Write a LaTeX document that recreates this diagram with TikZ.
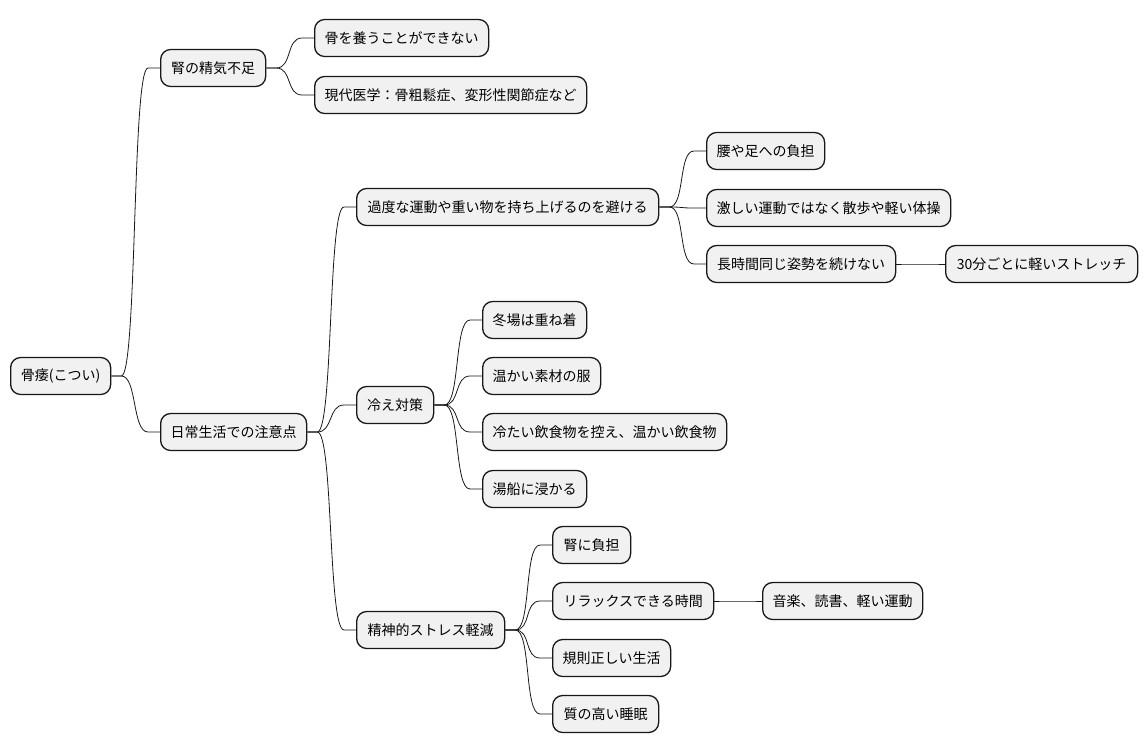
\documentclass[tikz,border=0pt]{standalone}
\usepackage{fontspec}
\setmainfont{Noto Sans CJK JP}
\definecolor{boxfill}{HTML}{F1F1F1}
\definecolor{boxline}{HTML}{181818}
\tikzset{
  mm/.style={draw=boxline, fill=boxfill, line width=1.3pt, rounded corners=10pt,
    minimum height=37pt, inner xsep=0pt, inner ysep=0pt, anchor=west,
    font=\fontsize{14}{16}\selectfont, text=black},
  link/.style={draw=boxline, line width=0.8pt}
}
\newcommand{\mmedge}[2]{\draw[link] (#1.east) -- ++(10,0) .. controls +(16,0) and +(-16,0) .. ([xshift=-12]#2.west) -- (#2.west);}
\begin{document}
\begin{tikzpicture}[x=1pt,y=-1pt]
\useasboundingbox (0,0) rectangle (1147,752);
\node[mm, minimum width=100] (root) at (10,376) {骨痿(こつい)};
\node[mm, minimum width=105] (jin) at (160,68) {腎の精気不足};
\node[mm, minimum width=174] (hone) at (314,38) {骨を養うことができない};
\node[mm, minimum width=272] (gendai) at (314,95) {現代医学：骨粗鬆症、変形性関節症など};
\node[mm, minimum width=146] (nichi) at (160,432) {日常生活での注意点};
\node[mm, minimum width=302] (kado) at (356,207) {過度な運動や重い物を持ち上げるのを避ける};
\node[mm, minimum width=118] (koshi) at (706,151) {腰や足への負担};
\node[mm, minimum width=244] (hageshii) at (706,208) {激しい運動ではなく散歩や軽い体操};
\node[mm, minimum width=189] (choujikan) at (706,264) {長時間同じ姿勢を続けない};
\node[mm, minimum width=192] (sanjuu) at (945,264) {30分ごとに軽いストレッチ};
\node[mm, minimum width=77] (hie) at (356,405) {冷え対策};
\node[mm, minimum width=104] (fuyu) at (482,320) {冬場は重ね着};
\node[mm, minimum width=118] (sozai) at (482,376) {温かい素材の服};
\node[mm, minimum width=244] (tsumetai) at (482,432) {冷たい飲食物を控え、温かい飲食物};
\node[mm, minimum width=104] (yubune) at (482,489) {湯船に浸かる};
\node[mm, minimum width=148] (seishin) at (356,630) {精神的ストレス軽減};
\node[mm, minimum width=78] (futan) at (552,545) {腎に負担};
\node[mm, minimum width=161] (relax) at (552,601) {リラックスできる時間};
\node[mm, minimum width=160] (ongaku) at (762,601) {音楽、読書、軽い運動};
\node[mm, minimum width=118] (kisoku) at (552,658) {規則正しい生活};
\node[mm, minimum width=106] (suimin) at (552,714) {質の高い睡眠};
\mmedge{root}{jin}
\mmedge{root}{nichi}
\mmedge{jin}{hone}
\mmedge{jin}{gendai}
\mmedge{nichi}{kado}
\mmedge{nichi}{hie}
\mmedge{nichi}{seishin}
\mmedge{kado}{koshi}
\mmedge{kado}{hageshii}
\mmedge{kado}{choujikan}
\mmedge{choujikan}{sanjuu}
\mmedge{hie}{fuyu}
\mmedge{hie}{sozai}
\mmedge{hie}{tsumetai}
\mmedge{hie}{yubune}
\mmedge{seishin}{futan}
\mmedge{seishin}{relax}
\mmedge{seishin}{kisoku}
\mmedge{seishin}{suimin}
\mmedge{relax}{ongaku}
\end{tikzpicture}
\end{document}
